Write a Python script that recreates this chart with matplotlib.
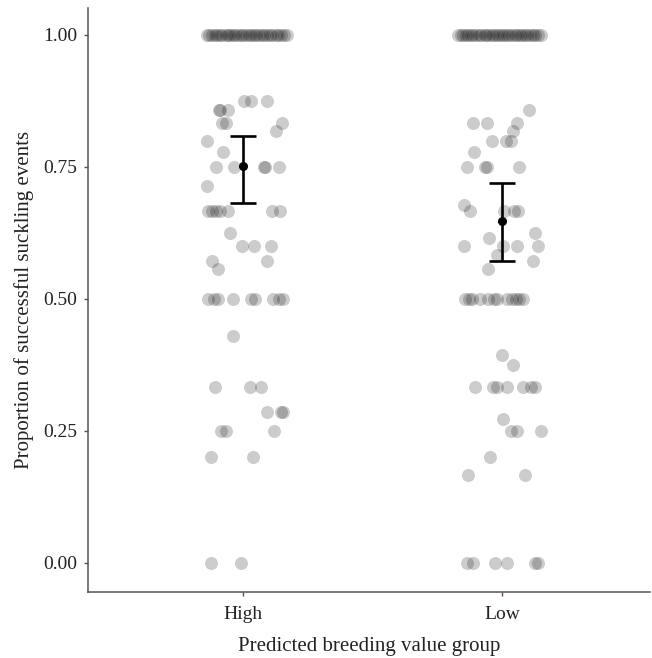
import matplotlib
matplotlib.use("Agg")
import matplotlib.pyplot as plt
import numpy as np

plt.rcParams['font.family'] = ['Liberation Serif', 'DejaVu Serif']

groups = ["High", "Low"]

high_values = ([1.0] * 31 + [0.875] * 3 + [0.857] * 3 + [0.833] * 3 + [0.818] + [0.8] + [0.778]
               + [0.75] * 5 + [0.714] + [0.667] * 7 + [0.625] + [0.6] * 3 + [0.571] * 2 + [0.556]
               + [0.5] * 9 + [0.429] + [0.333] * 3 + [0.286] * 3 + [0.25] * 3 + [0.2] * 2 + [0.0] * 2)
high_jitter = [-0.139, -0.131, -0.120, -0.108, -0.100, -0.089, -0.081, -0.069, -0.058, -0.050, -0.039,
               -0.031, -0.019, -0.008, 0.0, 0.012, 0.023, 0.031, 0.042, 0.050, 0.062, 0.073, 0.081,
               0.093, 0.104, 0.112, 0.124, 0.135, 0.147, 0.158, 0.170,
               0.004, 0.031, 0.093,
               -0.093, -0.089, -0.058,
               -0.081, -0.066, 0.151,
               0.127,
               -0.139,
               -0.077,
               -0.104, -0.035, 0.081, 0.083, 0.139,
               -0.139,
               -0.135, -0.120, -0.104, -0.089, -0.058, 0.112, 0.143,
               -0.050,
               -0.004, 0.042, 0.108,
               -0.120, 0.093,
               -0.097,
               -0.135, -0.112, -0.097, -0.042, 0.031, 0.046, 0.116, 0.139, 0.154,
               -0.039,
               -0.108, 0.027, 0.069,
               0.093, 0.147, 0.154,
               -0.085, -0.066, 0.120,
               -0.124, 0.039,
               -0.124, -0.008]

low_values = ([1.0] * 33 + [0.857] + [0.833] * 3 + [0.818] + [0.8] * 3 + [0.778] + [0.75] * 4
              + [0.677] + [0.667] * 4 + [0.625] + [0.615] + [0.6] * 4 + [0.583] + [0.571] + [0.556]
              + [0.5] * 12 + [0.394] + [0.375] + [0.333] * 7 + [0.273] + [0.25] * 3 + [0.2]
              + [0.167] * 2 + [0.0] * 6)
low_jitter = [-0.170, -0.158, -0.151, -0.139, -0.131, -0.120, -0.112, -0.100, -0.089, -0.081, -0.069,
              -0.062, -0.050, -0.042, -0.031, -0.019, -0.012, 0.0, 0.008, 0.019, 0.027, 0.039, 0.050,
              0.058, 0.069, 0.077, 0.089, 0.097, 0.108, 0.120, 0.127, 0.139, 0.151,
              0.104,
              -0.112, -0.058, 0.058,
              0.042,
              -0.039, 0.015, 0.035,
              -0.108,
              -0.135, -0.069, -0.058, 0.066,
              -0.147,
              -0.124, 0.008, 0.046, 0.062,
              0.127,
              -0.050,
              -0.147, 0.004, 0.058, 0.139,
              -0.019,
              0.120,
              -0.054,
              -0.143, -0.127, -0.116, -0.085, -0.054, -0.031, -0.019, 0.019, 0.039, 0.054, 0.066, 0.081,
              0.0,
              0.042,
              -0.104, -0.035, -0.019, 0.019, 0.081, 0.112, 0.127,
              0.004,
              0.035, 0.058, 0.151,
              -0.046,
              -0.131, 0.089,
              -0.135, -0.112, -0.027, 0.019, 0.127, 0.139]

means = [0.752, 0.648]
lower = [0.682, 0.572]
upper = [0.809, 0.720]

yticks = [0.0, 0.25, 0.5, 0.75, 1.0]
ytick_labels = ["0.00", "0.25", "0.50", "0.75", "1.00"]

fig = plt.figure(figsize=(6.52, 6.58), dpi=100)
ax = fig.add_axes([88 / 652, 66 / 658, (650 - 88) / 652, (592 - 8) / 658])

pos = np.arange(1, len(groups) + 1)
for p, vals, jit in [(pos[0], high_values, high_jitter), (pos[1], low_values, low_jitter)]:
    ax.scatter(p + np.array(jit), vals, s=88, color='black', alpha=0.2, linewidths=0, zorder=2)

m = np.array(means)
ax.errorbar(pos, m, yerr=[m - np.array(lower), np.array(upper) - m], fmt='o', color='black',
            markersize=5.5, elinewidth=1.9, capsize=9.5, capthick=1.9, zorder=3)

ax.set_xlim(0.4, 2.57)
ax.set_ylim(-0.055, 1.051)
ax.set_xticks(pos)
ax.set_xticklabels(groups)
ax.set_yticks(yticks)
ax.set_yticklabels(ytick_labels)

for side in ['top', 'right']:
    ax.spines[side].set_visible(False)
for side in ['left', 'bottom']:
    ax.spines[side].set_color('#5a5252')
    ax.spines[side].set_linewidth(1.1)
ax.tick_params(axis='both', colors='#5a5252', length=3, width=1.0, labelsize=14,
               labelcolor='#222222')
ax.tick_params(axis='x', pad=7)
ax.tick_params(axis='y', pad=5)

ax.set_xlabel("Predicted breeding value group", fontsize=15, color='#222222', labelpad=10)
ax.set_ylabel("Proportion of successful suckling events", fontsize=15, color='#222222', labelpad=6)

fig.savefig("out.png", dpi=100)
